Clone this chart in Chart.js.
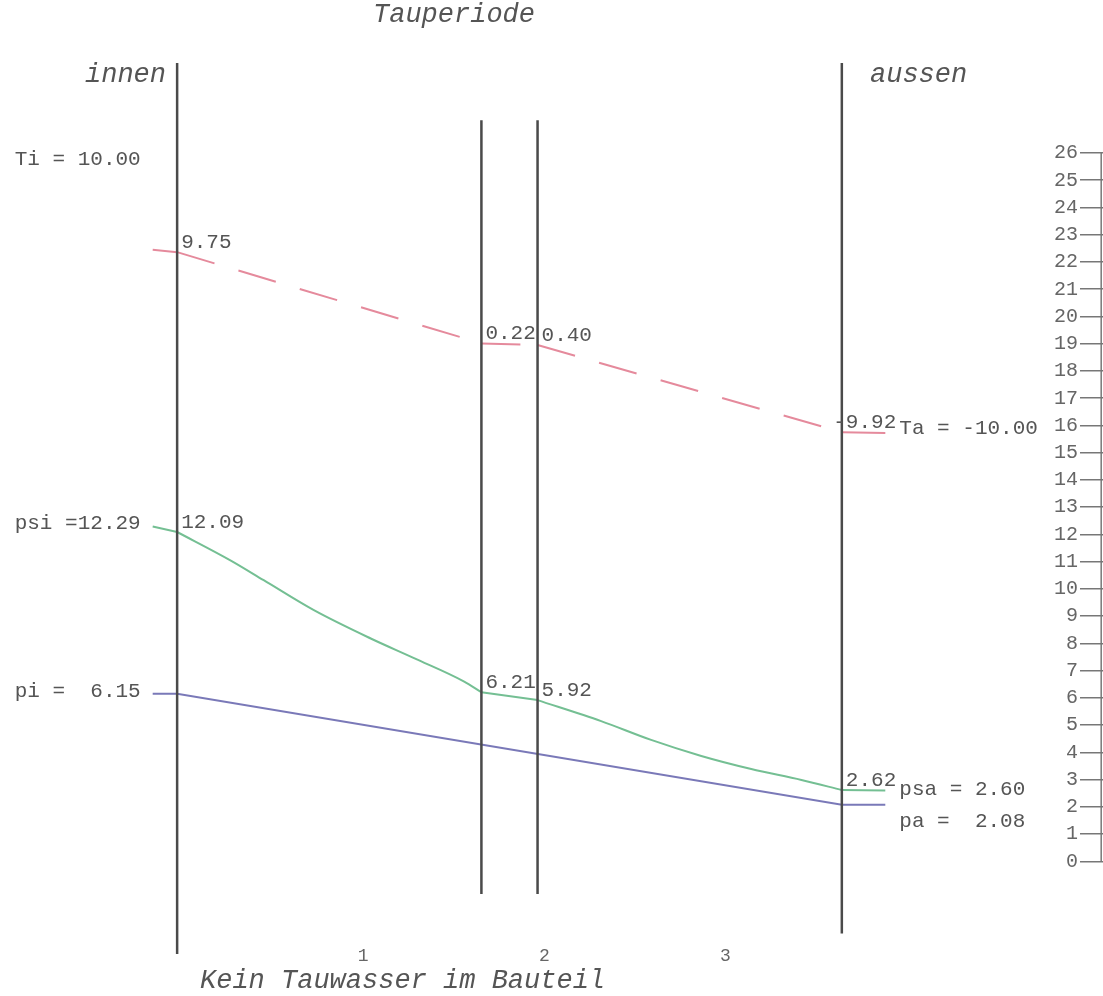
<!DOCTYPE html>
<html>
<head>
<meta charset="utf-8">
<title>Tauperiode</title>
<script src="https://cdn.jsdelivr.net/npm/chart.js@4.4.1/dist/chart.umd.min.js"></script>
<style>
  html, body { margin:0; padding:0; background:#fff; }
  #wrap { width:1103px; height:996px; }
</style>
</head>
<body>
<div id="wrap"><canvas id="glaser" width="1103" height="996"></canvas></div>
<script>
// sd-Werte der Schichten (x-Achse), Grenzen werden aufsummiert
var layerSd = [1.68, 0.31, 1.68];
var xTicks = [1, 2, 3];
var xStubIn = -0.135;   // kurze Striche links (Raumluft)
var xStubOut = 3.91;    // kurze Striche rechts (Aussenluft)

// Temperatur
var tempAir = [10.00, -10.00];               // Ti, Ta
var tempIface = [9.75, -0.22, -0.40, -9.92]; // Oberflaeche innen .. aussen
var tempText = ['9.75', '0.22', '0.40', '-9.92'];

// Saettigungsdampfdruck psat (hPa)
var psAir = [12.29, 2.60];                   // psi, psa
var psatIface = [12.09, 6.21, 5.92, 2.62];
var psatL1x = [0.294, 0.478, 0.755, 1.069, 1.308, 1.585];
var psatL1 = [11.05, 10.32, 9.22, 8.18, 7.46, 6.60];
var psatL3x = [2.341, 2.617, 2.894, 3.170, 3.447];
var psatL3 = [5.15, 4.46, 3.87, 3.39, 2.99];

// Dampfdruck p (hPa)
var pAir = [6.15, 2.08];                     // pi, pa

// Druckskala rechts
var pMin = 0, pMax = 26;

// Linien der Bauteilgrenzen (in hPa der Skala)
var wallTop = [29.3, 27.2, 27.2, 29.3];
var wallBottom = [-3.4, -1.2, -1.2, -2.65];
var xFrame = 5.102;

var bounds = [0];
layerSd.forEach(function(d, i){ bounds.push(+(bounds[i] + d).toFixed(3)); });

var wallData = [];
bounds.forEach(function(b, i){
	wallData.push({x:b, y:wallTop[i]}, {x:b, y:wallBottom[i]}, {x:b, y:null});
});

var tempData = [{x:xStubIn, y:tempAir[0]}];
bounds.forEach(function(b, i){ tempData.push({x:b, y:tempIface[i]}); });
tempData.push({x:xStubOut, y:tempAir[1]});

// psat: gekruemmte Verlaeufe in Schicht 1 und 3, Rest gerade
var psatCurve1 = [{x:bounds[0], y:psatIface[0]}];
psatL1x.forEach(function(x, i){ psatCurve1.push({x:x, y:psatL1[i]}); });
psatCurve1.push({x:bounds[1], y:psatIface[1]});
var psatCurve3 = [{x:bounds[2], y:psatIface[2]}];
psatL3x.forEach(function(x, i){ psatCurve3.push({x:x, y:psatL3[i]}); });
psatCurve3.push({x:bounds[3], y:psatIface[3]});
var psatStraight = [
	{x:xStubIn, y:psAir[0]}, {x:bounds[0], y:psatIface[0]}, {x:bounds[0], y:null},
	{x:bounds[1], y:psatIface[1]}, {x:bounds[2], y:psatIface[2]}, {x:bounds[2], y:null},
	{x:bounds[3], y:psatIface[3]}, {x:xStubOut, y:psAir[1]}
];

var pData = [{x:xStubIn, y:pAir[0]}, {x:bounds[0], y:pAir[0]}, {x:bounds[3], y:pAir[1]}, {x:xStubOut, y:pAir[1]}];

var mono = '"Liberation Mono", "Courier New", monospace';
var txtColor = '#555555';
var green = '#74bf93';

var textPlugin = {
	id: 'glaserText',
	afterDraw: function(chart){
		var ctx = chart.ctx;
		var xs = chart.scales.x, ts = chart.scales.t, ps = chart.scales.p;
		ctx.save();
		ctx.fillStyle = txtColor;
		ctx.textBaseline = 'alphabetic';

		// Ueberschriften
		ctx.font = 'italic 27px ' + mono;
		ctx.textAlign = 'left';
		ctx.fillText('Tauperiode', 373, 22);
		ctx.fillText('aussen', 870, 82);
		ctx.fillText('Kein Tauwasser im Bauteil', 200, 988);
		ctx.textAlign = 'right';
		ctx.fillText('innen', 166, 82);

		// Randwerte links
		ctx.font = '21px ' + mono;
		var xl = xs.getPixelForValue(xStubIn) - 12;
		ctx.fillText('Ti = ' + tempAir[0].toFixed(2), xl, 165);
		ctx.fillText('psi =' + psAir[0].toFixed(2), xl, ps.getPixelForValue(psAir[0]) + 2);
		ctx.fillText('pi =  ' + pAir[0].toFixed(2), xl, ps.getPixelForValue(pAir[0]) + 3);

		// Randwerte rechts
		ctx.textAlign = 'left';
		var xr = xs.getPixelForValue(xStubOut) + 14;
		ctx.fillText('Ta = ' + tempAir[1].toFixed(2), xr, ts.getPixelForValue(tempAir[1]) + 1);
		ctx.fillText('psa = ' + psAir[1].toFixed(2), xr, ps.getPixelForValue(psAir[1]) + 4);
		ctx.fillText('pa =  ' + pAir[1].toFixed(2), xr, ps.getPixelForValue(pAir[1]) + 22);

		// Werte an den Grenzflaechen
		var minus = ctx.measureText('-').width;
		bounds.forEach(function(b, i){
			var px = xs.getPixelForValue(b) + 4;
			var t = tempText[i];
			ctx.fillText(t, t.charAt(0) === '-' ? px - minus : px, ts.getPixelForValue(tempIface[i]) - 4);
			ctx.fillText(psatIface[i].toFixed(2), px, ps.getPixelForValue(psatIface[i]) - 4);
		});
		ctx.restore();
	}
};

var chart = new Chart(document.getElementById('glaser'), {
	type: 'line',
	data: {
		datasets: [
			{label:'Grenzen', data:wallData, yAxisID:'p', borderColor:'#4a4a4a', borderWidth:2.5, pointRadius:0, spanGaps:false, clip:false},
			{label:'Skala', data:[{x:xFrame, y:pMin}, {x:xFrame, y:pMax}], yAxisID:'p', borderColor:'#777', borderWidth:1.5, pointRadius:0, clip:false},
			{label:'T', data:tempData, yAxisID:'t', borderColor:'#e58a9c', borderWidth:2, pointRadius:0, clip:false,
				segment:{
					borderDash: function(c){ return (c.p0DataIndex === 0 || c.p0DataIndex === bounds.length) ? [] : [39, 25]; },
					borderDashOffset: function(c){ return c.p0DataIndex * 0.001; }
				}},
			{label:'psat', data:psatCurve1, yAxisID:'p', borderColor:green, borderWidth:2, pointRadius:0, cubicInterpolationMode:'monotone', clip:false},
			{label:'psat3', data:psatCurve3, yAxisID:'p', borderColor:green, borderWidth:2, pointRadius:0, cubicInterpolationMode:'monotone', clip:false},
			{label:'psat0', data:psatStraight, yAxisID:'p', borderColor:green, borderWidth:2, pointRadius:0, spanGaps:false, clip:false},
			{label:'p', data:pData, yAxisID:'p', borderColor:'#7a79b8', borderWidth:2, pointRadius:0, clip:false}
		]
	},
	options: {
		responsive: false,
		animation: false,
		layout: { padding: { top:153, bottom:29, left:0, right:4 } },
		plugins: { legend:{display:false}, tooltip:{enabled:false}, title:{display:false} },
		scales: {
			x: {
				type: 'linear',
				min: -0.978, max: 4.985,
				grid: { display:false, tickLength:84 },
				border: { display:false },
				afterBuildTicks: function(s){ s.ticks = xTicks.map(function(v){ return {value:v}; }); },
				ticks: { color:'#666', font:{family:mono, size:18}, padding:0, labelOffset:5, maxRotation:0, autoSkip:false }
			},
			t: { type:'linear', display:false, min:-56.8, max:20.58 },
			p: {
				type: 'linear',
				position: 'right',
				min: pMin, max: pMax,
				border: { display:false },
				grid: { drawOnChartArea:false, drawTicks:true, tickLength:23, color:'#777', lineWidth:1.5 },
				ticks: { stepSize:1, mirror:true, padding:-2, autoSkip:false, color:'#666', font:{family:mono, size:20} }
			}
		}
	},
	plugins: [textPlugin]
});
</script>
</body>
</html>
